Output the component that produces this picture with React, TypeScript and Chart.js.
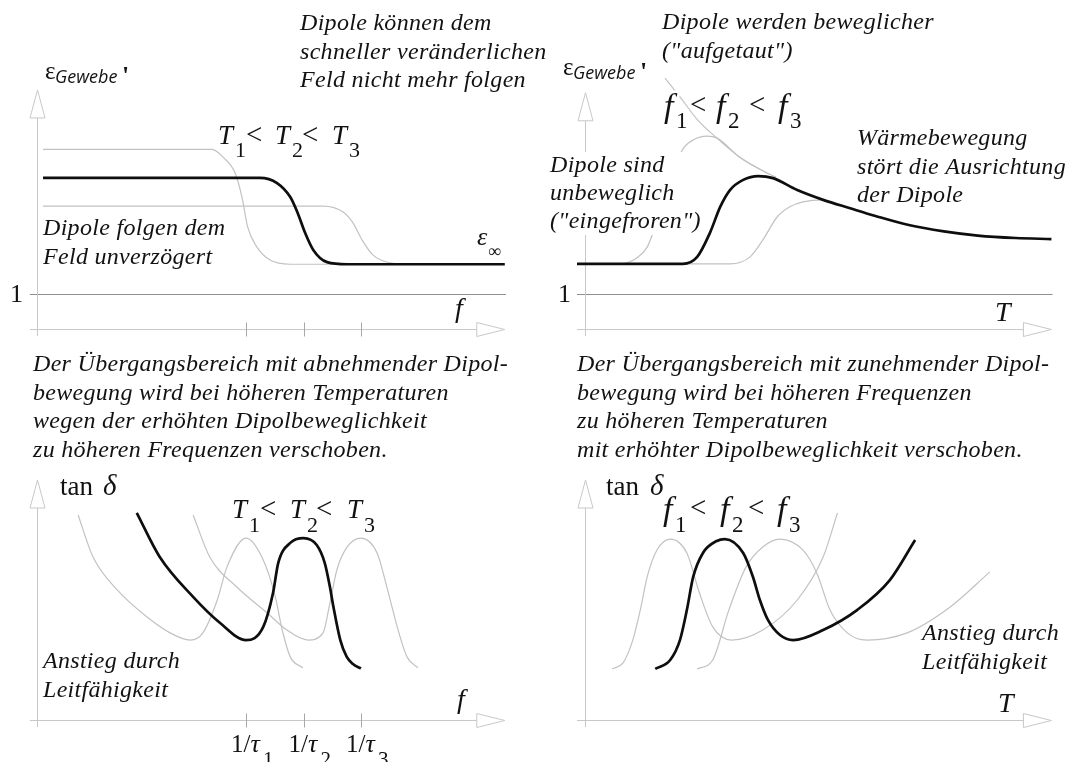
import { useEffect, useRef } from "react";
import { Chart, registerables } from "chart.js";

Chart.register(...registerables);

const PAGE_W = 1068;
const PAGE_H = 762;

const SERIF = '"Liberation Serif", "Times New Roman", serif';
const SANS = '"Open Sans", "DejaVu Sans", sans-serif';
const INK = "#121212";
const CURVE_DARK = "#0e0e0e";
const CURVE_LIGHT = "#c2c2c2";
const AXIS_GREY = "#c8c8c8";
const UNITY_GREY = "#8f8f8f";

// ε'(f) at T1 < T2 < T3 (x: log frequency, relaxation of T1/T2/T3 at 4/5/6)
const EPS_F_T1_X = [0.47, 3.41, 3.6, 3.81, 3.93, 4.03, 4.19, 4.42, 4.77, 8.5];
const EPS_F_T1_Y = [5.13, 5.13, 4.91, 4.46, 3.77, 2.91, 2.34, 1.97, 1.85, 1.85];
const EPS_F_T2_X = [0.47, 4.24, 4.54, 4.77, 4.9, 5.03, 5.17, 5.41, 5.76, 8.5];
const EPS_F_T2_Y = [4.32, 4.32, 4.17, 3.77, 3.31, 2.74, 2.26, 1.91, 1.85, 1.85];
const EPS_F_T3_X = [0.47, 5.34, 5.69, 5.86, 6.02, 6.21, 6.5, 6.8, 8.5];
const EPS_F_T3_Y = [3.51, 3.51, 3.34, 3.03, 2.54, 2.11, 1.89, 1.85, 1.85];

// ε'(T) at f1 < f2 < f3, plus the static branch the curves run into
const EPS_T_F1_X = [-0.13, 0.62, 0.74, 0.91, 1.09, 1.19, 1.43, 1.7, 1.89, 2.13, 2.3, 2.7, 3.17];
const EPS_T_F1_Y = [1.86, 1.86, 1.89, 2.03, 2.34, 2.74, 3.91, 5.11, 5.4, 5.51, 5.46, 4.91, 4.46];
const EPS_T_F2_X = [-0.13, 1.71, 1.96, 2.18, 2.36, 2.53, 2.76, 3.02, 3.28, 3.7, 4.15, 4.62, 5.06, 5.64, 6.25, 6.84, 7.5, 8.12];
const EPS_T_F2_Y = [1.86, 1.86, 2.06, 2.74, 3.49, 3.97, 4.26, 4.37, 4.31, 3.97, 3.69, 3.45, 3.23, 2.97, 2.79, 2.67, 2.6, 2.57];
const EPS_T_F3_X = [-0.13, 2.53, 2.88, 3.1, 3.35, 3.57, 3.8, 4.15, 4.3];
const EPS_T_F3_Y = [1.86, 1.86, 2.06, 2.54, 3.2, 3.49, 3.63, 3.69, 3.62];
const EPS_T_STATIC_X = [1.4, 1.66, 1.97, 2.3, 2.7, 3.17, 3.33];
const EPS_T_STATIC_Y = [7.17, 6.63, 5.97, 5.46, 4.91, 4.46, 4.34];

// tan δ(f) at T1 < T2 < T3
const TAN_F_T1_X = [1.08, 1.34, 1.76, 2.28, 2.68, 3.03, 3.25, 3.5, 3.67, 4.0, 4.3, 4.51, 4.63, 4.77, 4.99];
const TAN_F_T1_Y = [8.54, 6.79, 5.42, 4.29, 3.63, 3.33, 3.63, 5.0, 6.38, 7.58, 6.67, 5.13, 3.75, 2.63, 2.17];
const TAN_F_T2_X = [2.1, 2.5, 3.08, 3.55, 4.0, 4.3, 4.47, 4.56, 4.77, 5.0, 5.23, 5.37, 5.46, 5.52, 5.64, 5.75, 5.86, 6.0];
const TAN_F_T2_Y = [8.63, 6.79, 5.13, 4.04, 3.33, 3.88, 5.29, 6.54, 7.38, 7.58, 7.29, 6.54, 5.54, 4.72, 3.33, 2.64, 2.33, 2.15];
const TAN_F_T3_X = [3.08, 3.37, 3.84, 4.37, 4.71, 5.08, 5.34, 5.46, 5.58, 5.76, 6.0, 6.28, 6.45, 6.63, 6.8, 6.99];
const TAN_F_T3_Y = [8.54, 6.79, 5.54, 4.46, 3.75, 3.33, 3.63, 4.88, 6.25, 7.21, 7.58, 6.96, 5.54, 3.88, 2.63, 2.17];

// tan δ(T) at f1 < f2 < f3
const TAN_T_F1_X = [0.48, 0.67, 0.84, 0.97, 1.09, 1.26, 1.49, 1.78, 2.0, 2.23, 2.56, 3.1, 3.7, 4.15, 4.4];
const TAN_T_F1_Y = [2.13, 2.38, 3.33, 4.58, 5.96, 7.08, 7.54, 6.96, 5.29, 3.88, 3.33, 3.75, 5.0, 6.79, 8.63];
const TAN_T_F2_X = [1.23, 1.49, 1.66, 1.78, 1.89, 2.06, 2.3, 2.44, 2.76, 2.93, 3.05, 3.19, 3.4, 3.63, 4.15, 4.74, 5.31, 5.75];
const TAN_T_F2_Y = [2.13, 2.5, 3.33, 4.58, 5.96, 6.96, 7.46, 7.54, 6.96, 5.96, 5.0, 4.17, 3.54, 3.33, 3.75, 4.58, 5.83, 7.5];
const TAN_T_F3_X = [1.96, 2.23, 2.51, 2.81, 3.1, 3.4, 3.8, 4.04, 4.27, 4.57, 4.91, 5.61, 6.36, 7.05];
const TAN_T_F3_Y = [2.13, 2.5, 4.58, 6.38, 7.21, 7.54, 7.08, 6.13, 4.58, 3.63, 3.33, 3.63, 4.71, 6.17];

// relaxation frequencies marked on the frequency axes
const TAU_TICKS = [4, 5, 6];
const TAU_INDEX = ["1", "2", "3"];

// annotation texts
const NOTE_FAST_FIELD = ["Dipole können dem", "schneller veränderlichen", "Feld nicht mehr folgen"];
const NOTE_FOLLOW = ["Dipole folgen dem", "Feld unverzögert"];
const NOTE_THAWED = ["Dipole werden beweglicher", "(\"aufgetaut\")"];
const NOTE_THERMAL = ["Wärmebewegung", "stört die Ausrichtung", "der Dipole"];
const NOTE_FROZEN = ["Dipole sind", "unbeweglich", "(\"eingefroren\")"];
const CAPTION_FREQ = [
  "Der Übergangsbereich mit abnehmender Dipol-",
  "bewegung wird bei höheren Temperaturen",
  "wegen der erhöhten Dipolbeweglichkeit",
  "zu höheren Frequenzen verschoben.",
];
const CAPTION_TEMP = [
  "Der Übergangsbereich mit zunehmender Dipol-",
  "bewegung wird bei höheren Frequenzen",
  "zu höheren Temperaturen",
  "mit erhöhter Dipolbeweglichkeit verschoben.",
];
const NOTE_CONDUCTION = ["Anstieg durch", "Leitfähigkeit"];

const ital = (s: number) => `italic ${s}px ${SERIF}`;
const reg = (s: number) => `${s}px ${SERIF}`;
const NOTE_FONT = ital(24);
const LINE_GAP = 28.5;

type Run = [string, number, number, string];

function drawLines(ctx: CanvasRenderingContext2D, lines: string[], x: number, y: number, gap = LINE_GAP, cover = false) {
  ctx.save();
  ctx.font = NOTE_FONT;
  (ctx as any).letterSpacing = "0.3px";
  if (cover) {
    const w = Math.max(...lines.map((l) => ctx.measureText(l).width));
    ctx.fillStyle = "#ffffff";
    ctx.fillRect(x - 3, y - 20, w + 6, gap * (lines.length - 1) + 27);
  }
  ctx.fillStyle = INK;
  lines.forEach((l, i) => ctx.fillText(l, x, y + i * gap));
  ctx.restore();
}

function drawRuns(ctx: CanvasRenderingContext2D, runs: Run[], halo = false) {
  if (halo) {
    ctx.save();
    ctx.strokeStyle = "#ffffff";
    ctx.lineWidth = 5;
    ctx.lineJoin = "round";
    for (const [s, x, y, f] of runs) {
      ctx.font = f;
      ctx.strokeText(s, x, y);
    }
    ctx.restore();
  }
  ctx.fillStyle = INK;
  for (const [s, x, y, f] of runs) {
    ctx.font = f;
    ctx.fillText(s, x, y);
  }
}

// "X1 < X2 < X3" with lowered indices
function orderChain(letter: string, xs: number[], subDx: number, base: number, sub: number, letterFont: string, subFont: string, ltFont: string, ltXs: number[], ltBase: number): Run[] {
  const runs: Run[] = [];
  xs.forEach((x, i) => {
    runs.push([letter, x, base, letterFont]);
    runs.push([TAU_INDEX[i], x + subDx, sub, subFont]);
    if (i < ltXs.length) runs.push(["<", ltXs[i], ltBase, ltFont]);
  });
  return runs;
}

function epsLabel(ctx: CanvasRenderingContext2D, x: number, y: number) {
  drawRuns(ctx, [
    ["ε", x, y, reg(25)],
    ["Gewebe", x + 10, y + 4, `italic 18px ${SANS}`],
    ["'", x + 77, y + 5, `bold 26px ${SERIF}`],
  ]);
}

type Frame = { x0: number; kx: number; y0: number; ky: number; xMin: number; xMax: number; yMin: number; yMax: number };

type AxisSpec = {
  yAxisAt: number;
  xFrom: number;
  xTo: number;
  yFrom: number;
  yTo: number;
  unity?: [number, number];
  ticks?: number[];
  tickHalf: number;
};

type Curve = { xs: number[]; ys: number[]; dark?: boolean };

type Panel = {
  id: string;
  frame: Frame;
  axes: AxisSpec;
  curves: Curve[];
  notes: (ctx: CanvasRenderingContext2D, chart: Chart) => void;
};

function drawAxes(chart: Chart, a: AxisSpec) {
  const { ctx } = chart;
  const sx = chart.scales.x;
  const sy = chart.scales.y;
  const r = (v: number) => Math.round(v) + 0.5;
  const ax = r(sx.getPixelForValue(a.yAxisAt));
  const ay = r(sy.getPixelForValue(0));
  const xL = sx.getPixelForValue(a.xFrom);
  const xR = sx.getPixelForValue(a.xTo);
  const yB = sy.getPixelForValue(a.yFrom);
  const yT = sy.getPixelForValue(a.yTo);
  const head = 28;
  ctx.save();
  ctx.lineWidth = 1;
  if (a.unity) {
    const uy = r(sy.getPixelForValue(1));
    ctx.strokeStyle = UNITY_GREY;
    ctx.beginPath();
    ctx.moveTo(sx.getPixelForValue(a.unity[0]), uy);
    ctx.lineTo(sx.getPixelForValue(a.unity[1]), uy);
    ctx.stroke();
  }
  ctx.strokeStyle = AXIS_GREY;
  ctx.fillStyle = "#ffffff";
  ctx.beginPath();
  ctx.moveTo(xL, ay);
  ctx.lineTo(xR - head, ay);
  ctx.moveTo(ax, yB);
  ctx.lineTo(ax, yT + head);
  ctx.stroke();
  ctx.beginPath();
  ctx.moveTo(xR - head, ay - 7);
  ctx.lineTo(xR, ay);
  ctx.lineTo(xR - head, ay + 7);
  ctx.closePath();
  ctx.fill();
  ctx.stroke();
  ctx.beginPath();
  ctx.moveTo(ax - 7.5, yT + head);
  ctx.lineTo(ax, yT);
  ctx.lineTo(ax + 7.5, yT + head);
  ctx.closePath();
  ctx.fill();
  ctx.stroke();
  if (a.ticks) {
    ctx.strokeStyle = "#a8a8a8";
    ctx.beginPath();
    for (const t of a.ticks) {
      const tx = r(sx.getPixelForValue(t));
      ctx.moveTo(tx, ay - a.tickHalf);
      ctx.lineTo(tx, ay + a.tickHalf);
    }
    ctx.stroke();
  }
  ctx.restore();
}

function tauLabels(ctx: CanvasRenderingContext2D, chart: Chart) {
  const sx = chart.scales.x;
  TAU_TICKS.forEach((t, i) => {
    const x = sx.getPixelForValue(t) - 15;
    drawRuns(ctx, [
      ["1/", x, 752, reg(25)],
      ["τ", x + 19.5, 752, ital(26)],
      [TAU_INDEX[i], x + 32, 766, reg(21)],
    ]);
  });
}

const FRAME_F_TOP: Frame = { x0: 16, kx: 57.5, y0: 329, ky: 35, xMin: 0, xMax: 9, yMin: -0.5, yMax: 8 };
const FRAME_T_TOP: Frame = { x0: 584.5, kx: 57.5, y0: 329, ky: 35, xMin: -0.3, xMax: 8.2, yMin: -0.5, yMax: 8 };
const FRAME_F_BOT: Frame = { x0: 16, kx: 57.5, y0: 720, ky: 24, xMin: 0, xMax: 9, yMin: -0.5, yMax: 10.5 };
const FRAME_T_BOT: Frame = { x0: 584.5, kx: 57.5, y0: 720, ky: 24, xMin: -0.3, xMax: 8.2, yMin: -0.5, yMax: 10.5 };

const T_FONT = ital(27);
const F_FONT = ital(34);
const LT_FONT = reg(29);

const PANELS: Panel[] = [
  {
    id: "eps-f",
    frame: FRAME_F_TOP,
    axes: { yAxisAt: 0.36, xFrom: 0.24, xTo: 8.5, yFrom: -0.2, yTo: 6.83, unity: [0.24, 8.52], ticks: TAU_TICKS, tickHalf: 7 },
    curves: [
      { xs: EPS_F_T1_X, ys: EPS_F_T1_Y },
      { xs: EPS_F_T3_X, ys: EPS_F_T3_Y },
      { xs: EPS_F_T2_X, ys: EPS_F_T2_Y, dark: true },
    ],
    notes: (ctx) => {
      drawLines(ctx, NOTE_FAST_FIELD, 300, 30);
      drawLines(ctx, NOTE_FOLLOW, 43, 235);
      epsLabel(ctx, 45, 79);
      drawRuns(ctx, orderChain("T", [218, 275, 332], 17, 144, 157, T_FONT, reg(22), LT_FONT, [246, 302], 144));
      drawRuns(ctx, [
        ["ε", 477, 245, ital(26)],
        ["∞", 488, 257, reg(18)],
        ["f", 455, 317, ital(28)],
        ["1", 10, 302, reg(26)],
      ]);
    },
  },
  {
    id: "eps-T",
    frame: FRAME_T_TOP,
    axes: { yAxisAt: 0, xFrom: -0.13, xTo: 8.12, yFrom: -0.2, yTo: 6.75, unity: [-0.13, 8.14], tickHalf: 0 },
    curves: [
      { xs: EPS_T_STATIC_X, ys: EPS_T_STATIC_Y },
      { xs: EPS_T_F1_X, ys: EPS_T_F1_Y },
      { xs: EPS_T_F3_X, ys: EPS_T_F3_Y },
      { xs: EPS_T_F2_X, ys: EPS_T_F2_Y, dark: true },
    ],
    notes: (ctx) => {
      drawLines(ctx, NOTE_THAWED, 662, 29);
      drawLines(ctx, NOTE_THERMAL, 857, 145);
      drawLines(ctx, NOTE_FROZEN, 550, 172, 28, true);
      epsLabel(ctx, 563, 75);
      drawRuns(ctx, orderChain("f", [664, 716, 778], 12, 117, 128, F_FONT, reg(23), LT_FONT, [690, 749], 114), true);
      drawRuns(ctx, [
        ["T", 995, 321, ital(28)],
        ["1", 558, 302, reg(26)],
      ]);
    },
  },
  {
    id: "tan-f",
    frame: FRAME_F_BOT,
    axes: { yAxisAt: 0.36, xFrom: 0.24, xTo: 8.5, yFrom: -0.3, yTo: 10, ticks: TAU_TICKS, tickHalf: 7 },
    curves: [
      { xs: TAN_F_T1_X, ys: TAN_F_T1_Y },
      { xs: TAN_F_T3_X, ys: TAN_F_T3_Y },
      { xs: TAN_F_T2_X, ys: TAN_F_T2_Y, dark: true },
    ],
    notes: (ctx, chart) => {
      drawLines(ctx, CAPTION_FREQ, 33, 371);
      drawLines(ctx, NOTE_CONDUCTION, 43, 668, 29);
      drawRuns(ctx, [
        ["tan", 60, 495, reg(27)],
        ["δ", 103, 495, ital(29)],
        ["f", 457, 708, ital(28)],
      ]);
      drawRuns(ctx, orderChain("T", [232, 290, 347], 17, 518, 532, T_FONT, reg(22), LT_FONT, [260, 316], 518));
      tauLabels(ctx, chart);
    },
  },
  {
    id: "tan-T",
    frame: FRAME_T_BOT,
    axes: { yAxisAt: 0, xFrom: -0.13, xTo: 8.12, yFrom: -0.3, yTo: 10, tickHalf: 0 },
    curves: [
      { xs: TAN_T_F1_X, ys: TAN_T_F1_Y },
      { xs: TAN_T_F3_X, ys: TAN_T_F3_Y },
      { xs: TAN_T_F2_X, ys: TAN_T_F2_Y, dark: true },
    ],
    notes: (ctx) => {
      drawLines(ctx, CAPTION_TEMP, 577, 371);
      drawLines(ctx, NOTE_CONDUCTION, 922, 640, 29);
      drawRuns(ctx, [
        ["tan", 606, 495, reg(27)],
        ["δ", 650, 495, ital(29)],
        ["T", 998, 712, ital(28)],
      ]);
      drawRuns(ctx, orderChain("f", [663, 720, 777], 12, 520, 532, F_FONT, reg(23), LT_FONT, [690, 748], 517), true);
    },
  },
];

function buildChart(canvas: HTMLCanvasElement, p: Panel) {
  const f = p.frame;
  const padding = {
    left: f.x0 + f.kx * f.xMin,
    right: PAGE_W - (f.x0 + f.kx * f.xMax),
    top: f.y0 - f.ky * f.yMax,
    bottom: PAGE_H - (f.y0 - f.ky * f.yMin),
  };
  const datasets = p.curves.map((c) => ({
    data: c.xs.map((x, i) => ({ x, y: c.ys[i] })),
    borderColor: c.dark ? CURVE_DARK : CURVE_LIGHT,
    borderWidth: c.dark ? 2.7 : 1.2,
    pointRadius: 0,
    fill: false,
    cubicInterpolationMode: "monotone" as const,
    order: c.dark ? 0 : 1,
    clip: false as const,
  }));
  return new Chart(canvas, {
    type: "line",
    data: { datasets },
    options: {
      responsive: false,
      animation: false,
      devicePixelRatio: 1,
      events: [],
      layout: { padding },
      plugins: { legend: { display: false }, tooltip: { enabled: false }, title: { display: false } },
      scales: {
        x: { type: "linear", min: f.xMin, max: f.xMax, display: false },
        y: { type: "linear", min: f.yMin, max: f.yMax, display: false },
      },
    },
    plugins: [
      {
        id: `frame-${p.id}`,
        beforeDatasetsDraw: (chart: Chart) => drawAxes(chart, p.axes),
        afterDatasetsDraw: (chart: Chart) => {
          const ctx = chart.ctx;
          ctx.save();
          ctx.textBaseline = "alphabetic";
          ctx.textAlign = "left";
          p.notes(ctx, chart);
          ctx.restore();
        },
      },
    ],
  });
}

export default function App() {
  const canvases = useRef<(HTMLCanvasElement | null)[]>([]);
  useEffect(() => {
    const charts = PANELS.map((p, i) => buildChart(canvases.current[i] as HTMLCanvasElement, p));
    return () => charts.forEach((c) => c.destroy());
  }, []);
  return (
    <div style={{ position: "absolute", left: 0, top: 0, width: PAGE_W, height: PAGE_H, background: "#ffffff", overflow: "hidden" }}>
      {PANELS.map((p, i) => (
        <canvas
          key={p.id}
          ref={(el) => {
            canvases.current[i] = el;
          }}
          width={PAGE_W}
          height={PAGE_H}
          style={{ position: "absolute", left: 0, top: 0, width: PAGE_W, height: PAGE_H }}
        />
      ))}
    </div>
  );
}
